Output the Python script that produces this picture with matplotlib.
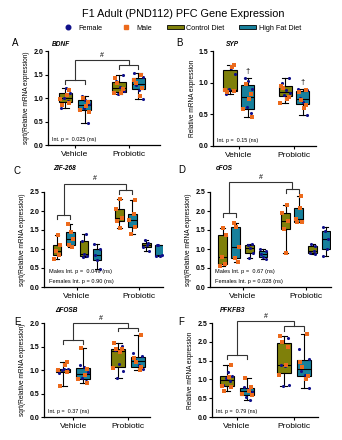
import numpy as np
import matplotlib
matplotlib.use('Agg')
from matplotlib import pyplot as plt
from matplotlib.lines import Line2D
from matplotlib.patches import Patch

plt.rcParams['font.family'] = ['Liberation Sans', 'DejaVu Sans']

OLIVE = '#7f800a'
TEAL = '#17809c'
NAVY = '#10108a'
ORANGE = '#ec6a1c'

groups = ['Vehicle', 'Probiotic']

# two-box panels: [veh ctl, veh hfd, pro ctl, pro hfd], split by sex
bdnf_female = [[0.78, 0.94, 1.01, 1.11, 1.22], [0.47, 0.78, 0.87, 0.96, 1.04],
               [1.09, 1.14, 1.24, 1.36, 1.50], [0.97, 1.17, 1.27, 1.45, 1.54]]
bdnf_male = [[0.86, 0.90, 0.97, 1.06, 1.16], [0.70, 0.74, 0.83, 0.92, 1.00],
             [1.10, 1.11, 1.20, 1.31, 1.42], [1.05, 1.22, 1.31, 1.38, 1.50]]

syp_female = [[0.82, 0.88, 0.895, 1.14, 1.23], [0.52, 0.62, 0.90, 1.03, 1.07],
              [0.81, 0.84, 0.88, 1.00, 1.08], [0.49, 0.69, 0.76, 0.88, 0.90]]
syp_male = [[0.85, 0.87, 0.885, 1.25, 1.28], [0.45, 0.58, 0.74, 0.82, 0.98],
            [0.68, 0.74, 0.78, 0.92, 0.95], [0.60, 0.65, 0.72, 0.86, 0.89]]

fosb_female = [[0.93, 0.97, 1.01, 1.02, 1.03], [0.77, 0.84, 0.95, 1.06, 1.10],
               [0.84, 0.98, 1.12, 1.43, 1.52], [1.03, 1.11, 1.21, 1.29, 1.36]]
fosb_male = [[0.66, 0.96, 0.99, 1.10, 1.18], [0.73, 0.80, 0.89, 1.02, 1.46],
             [1.04, 1.39, 1.44, 1.45, 1.58], [1.00, 1.06, 1.17, 1.26, 1.74]]

pfkfb3_female = [[0.86, 0.95, 1.03, 1.10, 1.20], [0.46, 0.52, 0.66, 0.74, 0.79],
                 [0.83, 0.85, 1.36, 1.39, 2.10], [0.77, 1.12, 1.22, 1.53, 1.80]]
pfkfb3_male = [[0.70, 0.80, 0.82, 1.07, 1.37], [0.58, 0.62, 0.70, 0.81, 1.05],
               [1.12, 1.37, 1.86, 2.00, 2.15], [1.02, 1.08, 1.32, 1.45, 2.20]]

# four-box panels, males and females plotted separately
zif_male = [[0.75, 0.83, 0.96, 1.10, 1.38], [1.05, 1.11, 1.27, 1.46, 1.65],
            [1.56, 1.74, 1.82, 2.05, 2.32], [1.39, 1.58, 1.75, 1.91, 2.30]]
zif_female = [[0.79, 0.81, 0.88, 1.21, 1.39], [0.47, 0.70, 0.83, 1.00, 1.12],
              [0.95, 1.04, 1.10, 1.16, 1.23], [0.81, 0.82, 0.83, 1.10, 1.11]]

cfos_male = [[0.54, 0.60, 0.79, 1.36, 1.54], [0.66, 0.77, 1.04, 1.58, 1.68],
             [0.89, 1.52, 1.74, 1.95, 2.15], [1.71, 1.71, 1.80, 2.09, 2.39]]
cfos_female = [[0.77, 0.89, 1.02, 1.10, 1.12], [0.74, 0.79, 0.86, 0.96, 0.99],
               [0.88, 0.90, 0.96, 1.08, 1.14], [0.82, 1.01, 1.27, 1.47, 1.58]]

JIT = [-0.30, 0.22, -0.08, 0.34, 0.05, -0.22, 0.30, -0.36, 0.12, 0.26, -0.15]
W, H = 342.0, 440.0
LW = 0.8


def px(x, y):
    return x / W, 1 - y / H


def axes_at(fig, left, top, right, bottom):
    return fig.add_axes([left / W, 1 - bottom / H, (right - left) / W, (bottom - top) / H])


def style_axes(ax, ymax, xlim, ylabel):
    ax.set_ylim(0, ymax)
    ax.set_yticks(np.arange(0, ymax + 0.01, 0.5))
    ax.yaxis.set_major_formatter('{x:.1f}')
    ax.set_xlim(*xlim)
    ax.set_xticks([1, 2])
    ax.set_xticklabels(groups, fontsize=6)
    for s in ['top', 'right']:
        ax.spines[s].set_visible(False)
    for s in ['left', 'bottom']:
        ax.spines[s].set_linewidth(0.9)
    ax.tick_params(axis='y', labelsize=5, width=0.8, length=2.5, pad=1)
    ax.tick_params(axis='x', width=0.8, length=2.5, pad=1.5)
    for t in ax.get_yticklabels():
        t.set_fontweight('bold')
    ax.set_ylabel(ylabel, fontsize=4.7, labelpad=2)


def draw_boxes(ax, pos, data, fills, width):
    bp = ax.boxplot(data, positions=pos, widths=width, whis=(0, 100), patch_artist=True,
                    showfliers=False, manage_ticks=False, capwidths=width * 0.5,
                    boxprops=dict(edgecolor='black', linewidth=LW),
                    medianprops=dict(color='black', linewidth=LW),
                    whiskerprops=dict(color='black', linewidth=LW),
                    capprops=dict(color='black', linewidth=LW))
    for patch, c in zip(bp['boxes'], fills):
        patch.set_facecolor(c)


def draw_dots(ax, x, vals, color, marker, width, start=0):
    offs = np.array([JIT[(start + i) % len(JIT)] for i in range(len(vals))]) * width
    ax.scatter(x + offs, vals, s=5, c=color, marker=marker, linewidths=0, zorder=3)


def bracket(ax, x1, x2, y, leg1, leg2):
    ax.plot([x1, x1, x2, x2], [y - leg1, y, y, y - leg2], color='#333333', lw=0.8,
            clip_on=False, solid_joinstyle='miter')


def sig_marks(ax, xs, vy, py, ty, leg):
    # xs: box centres of the compared pair in each group
    bracket(ax, xs[0], xs[1], vy, leg, leg)
    bracket(ax, xs[2], xs[3], py, leg, leg)
    xl = (xs[0] + xs[1]) / 2
    xr = (xs[2] + xs[3]) / 2
    bracket(ax, xl, xr, ty, ty - vy, ty - py)
    ax.text((xl + xr) / 2, ty + leg * 0.35, '#', ha='center', va='bottom', fontsize=5,
            clip_on=False)


def two_box_panel(ax, female, male, d=0.18, w=0.25):
    pos = [1 - d, 1 + d, 2 - d, 2 + d]
    data = [f + m for f, m in zip(female, male)]
    draw_boxes(ax, pos, data, [OLIVE, TEAL, OLIVE, TEAL], w)
    for i, x in enumerate(pos):
        draw_dots(ax, x, female[i], NAVY, 'o', w, start=i)
        draw_dots(ax, x, male[i], ORANGE, 's', w, start=i + 5)
    return pos


def four_box_panel(ax, male, female, w=0.14):
    offs = [-0.32, -0.11, 0.11, 0.32]
    pos = [g + o for g in (1, 2) for o in offs]
    data = [male[0], male[1], female[0], female[1], male[2], male[3], female[2], female[3]]
    draw_boxes(ax, pos, data, [OLIVE, TEAL] * 4, w)
    for i, (x, vals) in enumerate(zip(pos, data)):
        c, m = (ORANGE, 's') if i % 4 < 2 else (NAVY, 'o')
        draw_dots(ax, x, vals, c, m, w, start=i)
    return pos


fig = plt.figure(figsize=(3.42, 4.40), dpi=100)

fig.text(*px(183, 14), 'F1 Adult (PND112) PFC Gene Expression', ha='center', va='center',
         fontsize=7.8)
handles = [Line2D([], [], ls='none', marker='o', color=NAVY, markersize=3.3),
           Line2D([], [], ls='none', marker='s', color=ORANGE, markersize=3.3),
           Patch(facecolor=OLIVE, edgecolor='black', linewidth=0.6),
           Patch(facecolor=TEAL, edgecolor='black', linewidth=0.6)]
fig.legend(handles, ['Female', 'Male', 'Control Diet', 'High Fat Diet'], loc='center',
           bbox_to_anchor=px(180, 28), ncol=4, frameon=False, fontsize=5.2,
           handlelength=2.4, handleheight=0.55, handletextpad=0.3, columnspacing=2.0)

sqrt_lbl = 'sqrt(Relative mRNA expression)'
rel_lbl = 'Relative mRNA expression'

# A: BDNF
ax = axes_at(fig, 48, 51, 160, 145)
pos = two_box_panel(ax, bdnf_female, bdnf_male)
style_axes(ax, 2.0, (0.5, 2.58), sqrt_lbl)
sig_marks(ax, pos, 1.38, 1.70, 1.80, 0.08)
ax.text(0.04, 0.04, 'Int. p =  0.025 (ns)', transform=ax.transAxes, fontsize=3.9)

# B: SYP
ax = axes_at(fig, 213, 51, 316, 146)
pos = two_box_panel(ax, syp_female, syp_male, d=0.16, w=0.24)
style_axes(ax, 1.5, (0.53, 2.4), rel_lbl)
ax.text(pos[1], 1.12, '\u2020', ha='center', va='bottom', fontsize=5.5)
ax.text(pos[3], 0.95, '\u2020', ha='center', va='bottom', fontsize=5.5)
ax.text(0.04, 0.04, 'Int. p =  0.15 (ns)', transform=ax.transAxes, fontsize=3.9)

# C: ZIF-268
ax = axes_at(fig, 44, 192, 163, 287)
pos = four_box_panel(ax, zif_male, zif_female)
style_axes(ax, 2.5, (0.47, 2.38), sqrt_lbl)
sig_marks(ax, [pos[0], pos[1], pos[4], pos[5]], 1.90, 2.55, 2.72, 0.1)
ax.text(0.04, 0.15, 'Males Int. p =  0.049 (ns)', transform=ax.transAxes, fontsize=4.1)
ax.text(0.04, 0.04, 'Females Int. p = 0.90 (ns)', transform=ax.transAxes, fontsize=4.1)

# D: cFOS
ax = axes_at(fig, 210, 192, 331, 287)
pos = four_box_panel(ax, cfos_male, cfos_female)
style_axes(ax, 2.5, (0.48, 2.4), sqrt_lbl)
sig_marks(ax, [pos[0], pos[1], pos[4], pos[5]], 1.95, 2.57, 2.75, 0.1)
ax.text(0.04, 0.15, 'Males Int. p =  0.67 (ns)', transform=ax.transAxes, fontsize=4.1)
ax.text(0.04, 0.04, 'Females Int. p = 0.028 (ns)', transform=ax.transAxes, fontsize=4.1)

# E: deltaFOSB
ax = axes_at(fig, 44, 323, 150, 417)
pos = two_box_panel(ax, fosb_female, fosb_male)
style_axes(ax, 2.0, (0.47, 2.4), sqrt_lbl)
sig_marks(ax, pos, 1.63, 1.89, 1.99, 0.07)
ax.text(0.04, 0.04, 'Int. p =  0.37 (ns)', transform=ax.transAxes, fontsize=3.9)

# F: PFKFB3
ax = axes_at(fig, 212, 323, 318, 417)
pos = two_box_panel(ax, pfkfb3_female, pfkfb3_male)
style_axes(ax, 2.5, (0.56, 2.42), rel_lbl)
sig_marks(ax, pos, 1.65, 2.41, 2.54, 0.12)
ax.text(0.04, 0.04, 'Int. p =  0.79 (ns)', transform=ax.transAxes, fontsize=3.9)

# panel letters and gene names
letters = [('A', 12, 43), ('B', 176, 43), ('C', 14, 171), ('D', 178, 170),
           ('E', 14, 322), ('F', 178, 322)]
for t, x, y in letters:
    fig.text(*px(x, y), t, ha='left', va='center', fontsize=7)

genes = [('BDNF', 52, 44), ('SYP', 226, 45), ('ZIF-268', 53, 169), ('cFOS', 216, 169),
         ('\u0394FOSB', 55, 310), ('PFKFB3', 220, 310)]
for t, x, y in genes:
    fig.text(*px(x, y), t, ha='left', va='center', fontsize=4.7, fontweight='bold',
             fontstyle='italic')

fig.savefig('out.png', dpi=100)
